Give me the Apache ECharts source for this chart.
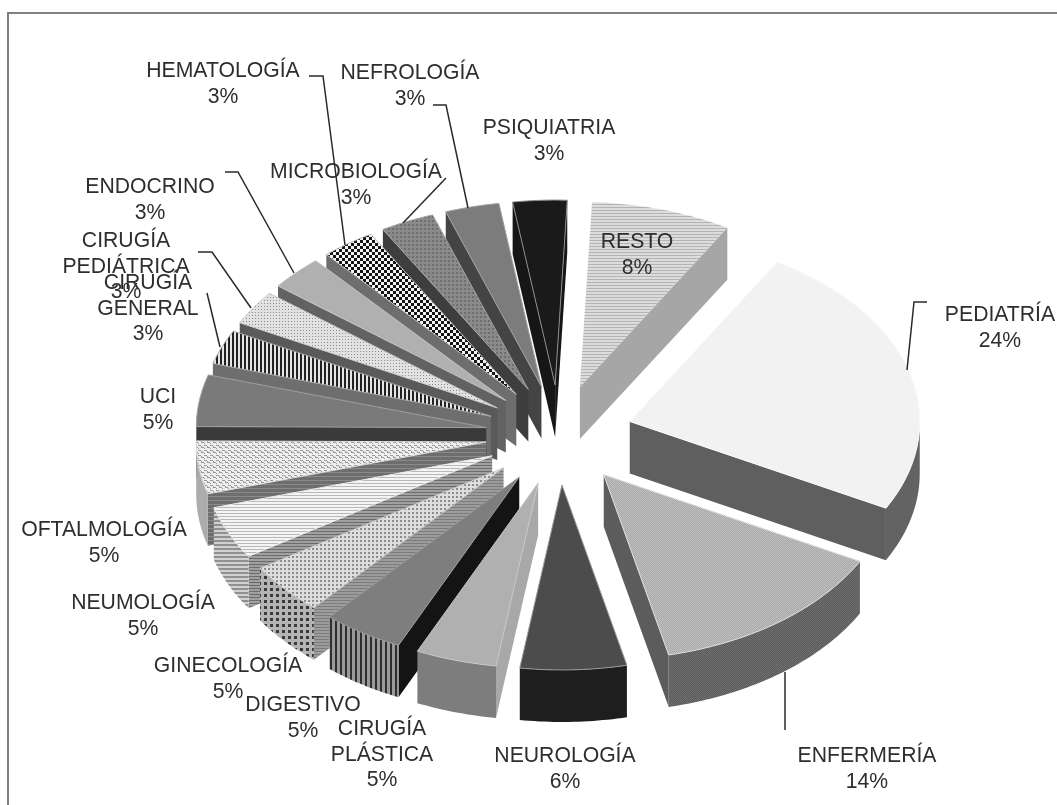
<!DOCTYPE html>
<html>
<head>
<meta charset="utf-8">
<style>html,body{margin:0;padding:0;background:#fff}#chart{width:1057px;height:805px;filter:blur(0.4px)}</style>
<script src="https://cdn.jsdelivr.net/npm/echarts@6/dist/echarts.min.js"></script>
</head>
<body>
<div id="chart"></div>
<script>
// ---- data (clockwise from the start angle) ----
const categories = ['RESTO','PEDIATRÍA','ENFERMERÍA','NEUROLOGÍA','CIRUGÍA\nPLÁSTICA','DIGESTIVO','GINECOLOGÍA','NEUMOLOGÍA','OFTALMOLOGÍA','UCI','CIRUGÍA\nGENERAL','CIRUGÍA\nPEDIÁTRICA','ENDOCRINO','HEMATOLOGÍA','MICROBIOLOGÍA','NEFROLOGÍA','PSIQUIATRIA'];
const shares = [7.8,24.2,13.6,5.9,4.5,4.5,4.5,4.6,4.6,4.5,3.0,3.0,3.0,3.0,3.0,3.0,3.0];

// ---- layout ----
const START_ANGLE = 2.4, CX = 559, CY = 435, RX = 290, RY = 185, EXPLODE_X = 73.5, EXPLODE_Y = 50, DEPTH = 52;
const labelCenters = [[637,255],[1000,328],[867,769],[565,769],[382,755],[303,718],[228,679],[143,616],[104,543],[158,410],[148,309],[126,267],[150,200],[223,84],[356,185],[410,86],[549,141]];
const leaders = [null,[[927,302],[914,302],[907,370]],[[785,672],[785,730]],null,null,null,null,null,null,null,[[207,293],[220,347]],[[198,252],[212,252],[251,308]],[[225,172],[238,172],[294,273]],[[309,76],[323,76],[345,245]],[[446,178],[403,223]],[[433,105],[446,105],[468,208]],null];

// ---- textures ----
function tex(w, h, bg, draw) {
  const c = document.createElement('canvas'); c.width = w; c.height = h;
  const g = c.getContext('2d'); g.fillStyle = bg; g.fillRect(0,0,w,h);
  if (draw) draw(g);
  return {image: c, repeat: 'repeat'};
}
const rect = (col, rs) => g => { g.fillStyle = col; rs.forEach(r => g.fillRect(r[0],r[1],r[2],r[3])); };
const hLines = (p, bg, fg, t) => tex(4, p, bg, rect(fg, [[0,0,4,t||1]]));
const vLines = (p, bg, fg, t) => tex(p, 4, bg, rect(fg, [[0,0,t||1,4]]));
const dots = (p, bg, fg, s) => tex(p, p, bg, rect(fg, [[0,0,s,s]]));
const checker = (p, a, b) => tex(p, p, a, rect(b, [[0,0,p/2,p/2],[p/2,p/2,p/2,p/2]]));
const weave = (bg, fg) => tex(6, 5, bg, rect(fg, [[0,0,3,1],[3,2,3,1],[3,1,1,1],[0,3,1,1]]));

const sliceStyles = [
  {top: hLines(3,'#dcdcdc','#b4b4b4'), wall:'#a6a6a6', rim:'#a6a6a6', edge:'rgba(255,255,255,0)'},
  {top:'#f2f2f2', wall:'#5f5f5f', rim:'#636363', edge:'#fafafa'},
  {top: checker(2,'#a8a8a8','#c0c0c0'), wall:'#5c5c5c', rim: checker(2,'#5a5a5a','#707070'), edge:'#dddddd'},
  {top:'#4c4c4c', wall:'#3c3c3c', rim:'#1e1e1e', edge:'#9a9a9a'},
  {top:'#b0b0b0', wall:'#a8a8a8', rim:'#7d7d7d', edge:'#c8c8c8'},
  {top:'#7e7e7e', wall:'#141414', rim: vLines(5,'#9a9a9a','#2e2e2e',2), edge:'#999999'},
  {top: dots(4,'#dedede','#8c8c8c',2), wall: hLines(3,'#9c9c9c','#7c7c7c'), rim: dots(6,'#b4b4b4','#3a3a3a',3), edge:'#cccccc'},
  {top: hLines(3,'#f4f4f4','#b8b8b8'), wall: hLines(3,'#a0a0a0','#6c6c6c'), rim: hLines(4,'#d0d0d0','#909090',2), edge:'#eeeeee'},
  {top: weave('#eeeeee','#9a9a9a'), wall: hLines(4,'#6e6e6e','#8a8a8a'), rim:'#acacac', edge:'#dddddd'},
  {top:'#7a7a7a', wall:'#3a3a3a', rim:'#3a3a3a', edge:'#9e9e9e'},
  {top: vLines(4,'#e6e6e6','#222222',2), wall:'#6e6e6e', rim:'#6e6e6e', edge:'#aaaaaa'},
  {top: dots(3,'#e2e2e2','#8a8a8a',1), wall:'#5a5a5a', rim:'#5a5a5a', edge:'#cccccc'},
  {top:'#b0b0b0', wall:'#626262', rim:'#626262', edge:'#c4c4c4'},
  {top: checker(6,'#f4f4f4','#151515'), wall:'#6e6e6e', rim:'#6e6e6e', edge:'#bbbbbb'},
  {top: dots(4,'#8a8a8a','#6e6e6e',2), wall:'#3e3e3e', rim:'#3e3e3e', edge:'#a4a4a4'},
  {top:'#7c7c7c', wall:'#444444', rim:'#444444', edge:'#a0a0a0'},
  {top:'#1a1a1a', wall:'#161616', rim:'#161616', edge:'#8c8c8c'}
];

// ---- geometry derived from the shares ----
const total = shares.reduce((a,b) => a + b, 0);
const spans = [];
shares.reduce((acc, v) => { const next = acc + v / total * 360; spans.push([acc, next]); return next; }, START_ANGLE);
const rad = d => d * Math.PI / 180;
const apexOf = i => {
  const m = rad((spans[i][0] + spans[i][1]) / 2);
  return [CX + EXPLODE_X * Math.sin(m), CY - EXPLODE_Y * Math.cos(m)];
};
const rimPoint = (a, d) => [a[0] + RX * Math.sin(rad(d)), a[1] - RY * Math.cos(rad(d))];
const down = p => [p[0], p[1] + DEPTH];
// painter's order: slices further back first
const order = categories.map((c,i) => i).sort((a,b) => apexOf(a)[1] - apexOf(b)[1]);

function wallVisible(edgeDeg, midDeg) {
  const dx = Math.sin(rad(edgeDeg)) * RX, dy = -Math.cos(rad(edgeDeg)) * RY;
  const bx = Math.sin(rad(midDeg)) * RX, by = -Math.cos(rad(midDeg)) * RY;
  if (Math.abs(dx) < 1e-6) return false;
  return by < dy / dx * bx;
}

function renderSlice(params, api) {
  const i = api.value(0), s = sliceStyles[i];
  const a0 = spans[i][0], a1 = spans[i][1], mid = (a0 + a1) / 2, apex = apexOf(i);
  const children = [];
  const poly = (pts, fill, z, stroke) => children.push({type:'polygon', z2:z, shape:{points:pts},
    style:{fill:fill, stroke:stroke || null, lineWidth:stroke ? 1 : 0}});
  [a0, a1].forEach(e => {
    if (wallVisible(e, mid)) {
      const r = rimPoint(apex, e);
      poly([apex, r, down(r), down(apex)], s.wall, 1);
    }
  });
  const arc = [];
  const n = Math.max(4, Math.ceil(a1 - a0));
  for (let k = 0; k <= n; k++) arc.push(a0 + (a1 - a0) * k / n);
  const front = arc.filter(d => d >= 90 && d <= 270).map(d => rimPoint(apex, d));
  if (front.length > 1) poly(front.concat(front.slice().reverse().map(down)), s.rim, 2);
  poly([apex].concat(arc.map(d => rimPoint(apex, d))), s.top, 3, s.edge);
  return {type:'group', children:children};
}

function renderLabel(params, api) {
  const i = api.value(0), pct = Math.round(api.value(1)) + '%';
  const c = labelCenters[i], children = [];
  if (leaders[i]) children.push({type:'polyline', shape:{points:leaders[i]}, style:{stroke:'#2a2a2a', lineWidth:1.5, fill:null}});
  children.push({type:'text', style:{text:categories[i] + '\n' + pct, x:c[0], y:c[1], align:'center', verticalAlign:'middle',
    font:'21.2px "Liberation Sans", Arial, sans-serif', lineHeight:25.5, fill:'#2e2e2e'}});
  return {type:'group', children:children};
}

const chart = echarts.init(document.getElementById('chart'), null, {renderer:'canvas'});
chart.setOption({
  animation:false,
  backgroundColor:'#ffffff',
  graphic:[
    {type:'line', shape:{x1:7,y1:13,x2:1057,y2:13}, style:{stroke:'#808080', lineWidth:2}},
    {type:'line', shape:{x1:8,y1:12,x2:8,y2:805}, style:{stroke:'#808080', lineWidth:2}}
  ],
  series:[
    {type:'custom', coordinateSystem:'none', silent:true, z:2, renderItem:renderSlice,
     data:order.map(i => [i, shares[i]])},
    {type:'custom', coordinateSystem:'none', silent:true, z:3, renderItem:renderLabel,
     data:categories.map((c,i) => [i, shares[i]])}
  ]
});
</script>
</body>
</html>
